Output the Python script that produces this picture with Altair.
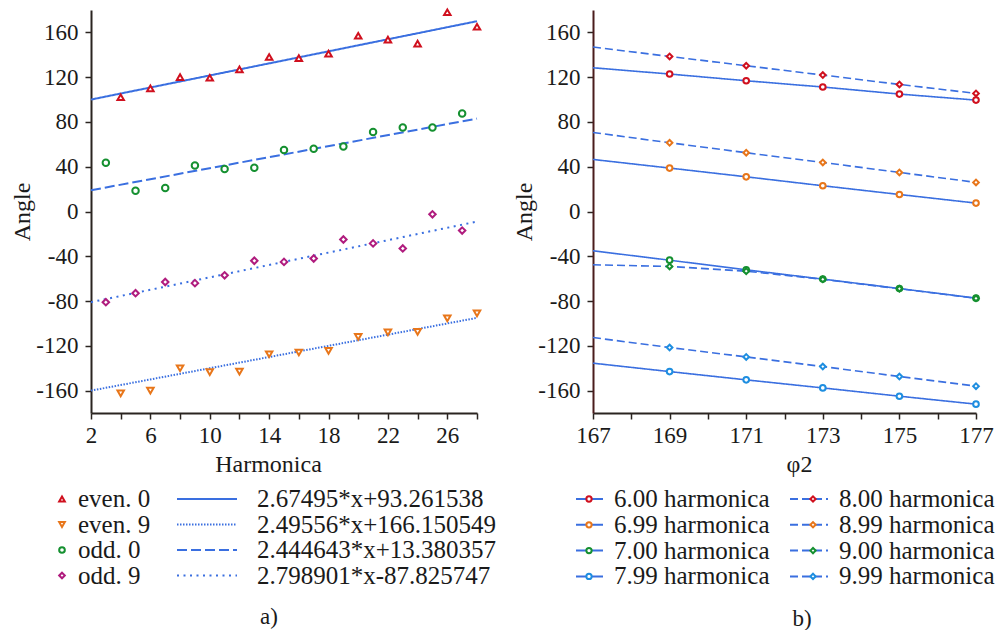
import altair as alt
import pandas as pd

FONT = "Liberation Serif"
TXT = "#1a1a1a"
AXC = "#2a2420"
LINE_BLUE = "#3a6fe0"

# ---------------- panel a data ----------------
harm_even = [4, 6, 8, 10, 12, 14, 16, 18, 20, 22, 24, 26, 28]
even_0 = [102, 110, 120, 119.5, 127, 138, 137, 141, 157, 153.5, 150, 178, 165]
even_9 = [-162.5, -160, -140, -143.5, -143, -127.5, -126, -124.5, -112, -108, -107.5, -95.5, -91]
harm_odd = [3, 5, 7, 9, 11, 13, 15, 17, 19, 21, 23, 25, 27]
odd_0 = [43.5, 18.5, 21, 41, 38, 39, 55, 56, 58, 71, 75, 75, 87.5]
odd_9 = [-81, -73, -63, -64, -57, -44, -45, -42, -25, -28.5, -33, -2.5, -17]

fit_x = [2, 28]
fit_even_0 = [100, 170]
fit_even_9 = [-160, -95]
fit_odd_0 = [19, 83]
fit_odd_9 = [-81, -9]

series_a = ["even. 0", "even. 9", "odd. 0", "odd. 9"]
formulas_a = ["2.67495*x+93.261538", "2.49556*x+166.150549",
              "2.444643*x+13.380357", "2.798901*x-87.825747"]
colors_a = ["#d0101e", "#e8761a", "#159030", "#b01c7e"]
shapes_a = ["triangle-up", "triangle-down", "circle", "diamond"]
dashes_a = [[1, 0], [1.5, 1.5], [10, 4], [2, 4.5]]

# ---------------- panel b data ----------------
phi = [167, 169, 171, 173, 175, 177]
h600 = [128.4, 122.8, 116.8, 111.2, 104.9, 99.5]
h699 = [46.5, 38.8, 31.0, 23.0, 15.2, 7.5]
h700 = [-35.1, -43.5, -52.1, -60.4, -68.8, -77.4]
h799 = [-135.5, -143.0, -150.4, -157.6, -165.0, -172.1]
h800 = [146.9, 138.5, 130.2, 121.9, 113.5, 105.5]
h899 = [70.6, 61.4, 52.5, 43.8, 34.9, 26.0]
h900 = [-47.6, -49.1, -53.3, -60.6, -69.0, -77.6]
h999 = [-112.6, -121.5, -129.9, -138.5, -147.4, -156.0]

series_b = ["6.00 harmonica", "6.99 harmonica", "7.00 harmonica", "7.99 harmonica",
            "8.00 harmonica", "8.99 harmonica", "9.00 harmonica", "9.99 harmonica"]
values_b = [h600, h699, h700, h799, h800, h899, h900, h999]
colors_b = ["#d0101e", "#e8761a", "#159030", "#1e8ee0"] * 2
shapes_b = ["circle"] * 4 + ["diamond"] * 4
dashes_b = [[1, 0]] * 4 + [[8, 4]] * 4

# ---------------- tables ----------------
pts_a = pd.DataFrame({
    "harm": harm_even + harm_even + harm_odd + harm_odd,
    "angle": even_0 + even_9 + odd_0 + odd_9,
    "series": [series_a[0]] * len(even_0) + [series_a[1]] * len(even_9)
              + [series_a[2]] * len(odd_0) + [series_a[3]] * len(odd_9),
})
fits = [fit_even_0, fit_even_9, fit_odd_0, fit_odd_9]
fit_a = pd.DataFrame({
    "harm": fit_x * 4,
    "angle": [v for f in fits for v in f],
    "series": [s for s in series_a for _ in fit_x],
})
leg_a = pd.DataFrame({"series": series_a, "row": list(range(4)), "formula": formulas_a})

b_rows = []
for s, vals in zip(series_b, values_b):
    for p, v in zip(phi, vals):
        b_rows.append({"phi": p, "angle": v, "series": s})
df_b = pd.DataFrame(b_rows)
leg_b = pd.DataFrame({"series": series_b, "row": [0, 1, 2, 3] * 2, "col": [0] * 4 + [1] * 4})

col_a = alt.Scale(domain=series_a, range=colors_a)
shp_a = alt.Scale(domain=series_a, range=shapes_a)
dsh_a = alt.Scale(domain=series_a, range=dashes_a)
col_b = alt.Scale(domain=series_b, range=colors_b)
shp_b = alt.Scale(domain=series_b, range=shapes_b)
dsh_b = alt.Scale(domain=series_b, range=dashes_b)


def y_enc(dom_color):
    return alt.Y("angle:Q", scale=alt.Scale(domain=[-180, 180], nice=False, zero=False),
                 axis=alt.Axis(values=list(range(-160, 161, 40)), labelExpr="toString(datum.value)",
                               title="Angle", titleX=-69, titleY=201.5, titleBaseline="middle",
                               titleAngle=270, titleAlign="center", domainColor=dom_color))


# ---------------- panel a plot ----------------
xa = alt.X("harm:Q", scale=alt.Scale(domain=[2, 28], nice=False, zero=False),
           axis=alt.Axis(values=list(range(2, 29, 2)),
                         labelExpr="(datum.value - 2) % 4 == 0 ? toString(datum.value) : ''",
                         title="Harmonica", titleX=177, titleY=58, titleBaseline="alphabetic",
                         titleAlign="center"))
ya = y_enc(AXC)
lines_a = alt.Chart(fit_a).mark_line(color=LINE_BLUE, strokeWidth=2).encode(
    x=xa, y=ya, detail="series:N",
    strokeDash=alt.StrokeDash("series:N", scale=dsh_a, legend=None))
points_a = alt.Chart(pts_a).mark_point(filled=True, fill="white", strokeWidth=2, size=42, opacity=1).encode(
    x=xa, y=ya,
    stroke=alt.Stroke("series:N", scale=col_a, legend=None),
    shape=alt.Shape("series:N", scale=shp_a, legend=None))
plot_a = alt.layer(lines_a, points_a).properties(width=386, height=403)

# ---------------- panel a legend ----------------
PX = alt.X("px:Q", scale=None, axis=None)
PY = alt.Y("py:Q", scale=None, axis=None)
base_la = alt.Chart(leg_a).transform_calculate(py="86 + datum.row * 25.5")
la_mark = base_la.transform_calculate(px="-29").mark_point(
    filled=True, fill="white", strokeWidth=2, size=32, opacity=1).encode(
    x=PX, y=PY, stroke=alt.Stroke("series:N", scale=col_a, legend=None),
    shape=alt.Shape("series:N", scale=shp_a, legend=None))
la_lab = base_la.transform_calculate(px="-13").mark_text(
    align="left", baseline="middle", font=FONT, fontSize=25, color=TXT).encode(
    x=PX, y=PY, text="series:N")
la_line = base_la.transform_calculate(px="86", px2="146").mark_rule(
    color=LINE_BLUE, strokeWidth=2).encode(
    x=PX, x2="px2:Q", y=PY, strokeDash=alt.StrokeDash("series:N", scale=dsh_a, legend=None))
la_form = base_la.transform_calculate(px="166").mark_text(
    align="left", baseline="middle", font=FONT, fontSize=25, color=TXT).encode(
    x=PX, y=PY, text="formula:N")
la_cap = alt.Chart(pd.DataFrame({"t": ["a)"]})).mark_text(
    align="center", baseline="middle", font=FONT, fontSize=23, color=TXT).encode(
    x=alt.value(178), y=alt.value(204), text="t:N")
legend_a = alt.layer(la_line, la_mark, la_lab, la_form, la_cap).properties(width=386, height=217)

# ---------------- panel b plot ----------------
xb = alt.X("phi:Q", scale=alt.Scale(domain=[167, 177], nice=False, zero=False),
           axis=alt.Axis(values=list(range(167, 178)),
                         labelExpr="(datum.value - 167) % 2 == 0 ? toString(datum.value) : ''",
                         title="φ2", titleX=206, titleY=58, titleBaseline="alphabetic",
                         titleAlign="center"))
yb = y_enc("#4a1c1c")
lines_b = alt.Chart(df_b).mark_line(color=LINE_BLUE, strokeWidth=1.6).encode(
    x=xb, y=yb, detail="series:N",
    strokeDash=alt.StrokeDash("series:N", scale=dsh_b, legend=None))
points_b = alt.Chart(df_b).transform_filter("datum.phi > 167").mark_point(
    filled=True, fill="white", strokeWidth=2, size=32, opacity=1).encode(
    x=xb, y=yb,
    stroke=alt.Stroke("series:N", scale=col_b, legend=None),
    shape=alt.Shape("series:N", scale=shp_b, legend=None))
plot_b = alt.layer(lines_b, points_b).properties(width=383, height=403)

# ---------------- panel b legend ----------------
base_lb = alt.Chart(leg_b).transform_calculate(py="86 + datum.row * 25.8")
lb_line = base_lb.transform_calculate(
    px="datum.col == 0 ? -17 : 197", px2="datum.col == 0 ? 10 : 235").mark_rule(
    color=LINE_BLUE, strokeWidth=2).encode(
    x=PX, x2="px2:Q", y=PY, strokeDash=alt.StrokeDash("series:N", scale=dsh_b, legend=None))
lb_mark = base_lb.transform_calculate(px="datum.col == 0 ? -4 : 220").mark_point(
    filled=True, fill="white", strokeWidth=2, size=28, opacity=1).encode(
    x=PX, y=PY, stroke=alt.Stroke("series:N", scale=col_b, legend=None),
    shape=alt.Shape("series:N", scale=shp_b, legend=None))
lb_lab = base_lb.transform_calculate(px="datum.col == 0 ? 21 : 246").mark_text(
    align="left", baseline="middle", font=FONT, fontSize=25, color=TXT).encode(
    x=PX, y=PY, text="series:N")
lb_cap = alt.Chart(pd.DataFrame({"t": ["b)"]})).mark_text(
    align="center", baseline="middle", font=FONT, fontSize=23, color=TXT).encode(
    x=alt.value(209), y=alt.value(206), text="t:N")
legend_b = alt.layer(lb_line, lb_mark, lb_lab, lb_cap).properties(width=383, height=217)

chart = alt.concat(plot_a, plot_b, legend_a, legend_b, columns=2, bounds="flush",
                   spacing={"column": 116, "row": 0}).resolve_scale(
    x="independent", y="independent", stroke="independent", shape="independent",
    strokeDash="independent"
).properties(
    padding={"left": 10, "top": 5, "right": 0, "bottom": 0}, background="white"
).configure_view(stroke=None).configure_axis(
    grid=False, labelFont=FONT, labelFontSize=23, labelColor=TXT, labelFlush=False,
    labelPadding=5, titleFont=FONT, titleFontSize=24, titleFontWeight="normal", titleColor=TXT,
    domainColor=AXC, domainWidth=2, tickColor=AXC, tickWidth=1.5, tickSize=6,
).configure_axisY(labelPadding=7)

chart.save("out.html", embed_options={"renderer": "svg", "actions": False})
